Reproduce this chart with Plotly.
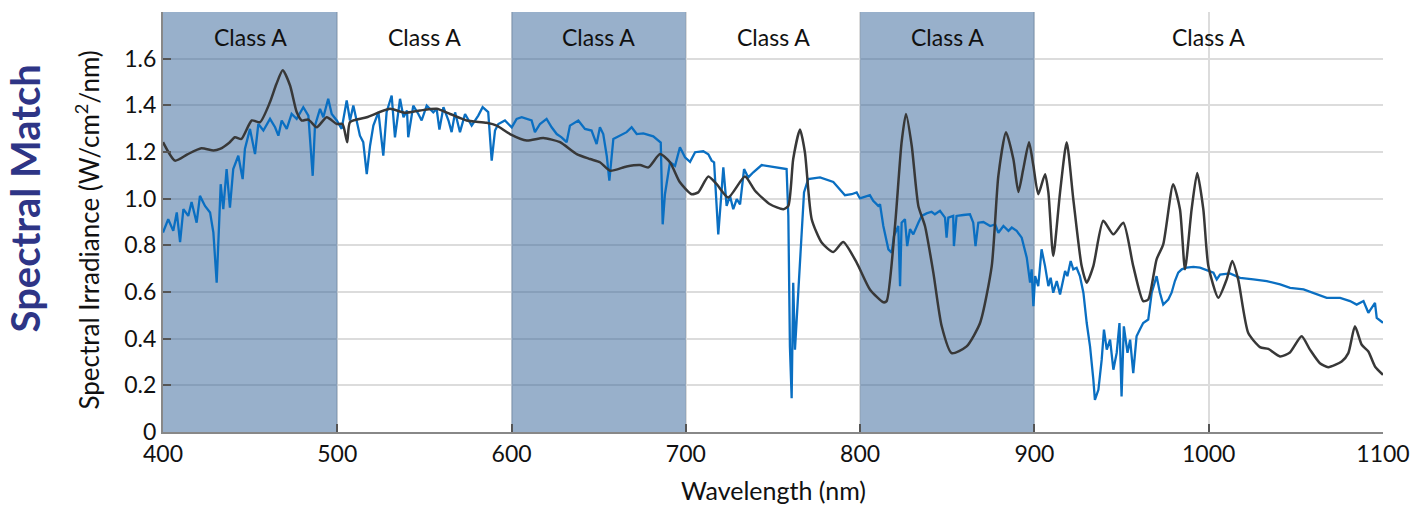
import plotly.graph_objects as go

# ---------------- data ----------------
lamp_nm = [400, 406.9, 414, 422, 429, 432.7, 438, 441.3, 445, 450.9, 455.7, 461.4, 465, 468.7, 472.9,
           476.7, 479.6, 483.4, 488.2, 493.9, 499.7, 503, 505.7, 507.3, 516.9, 530.2, 538.8, 547.5,
           557, 564.7, 574.2, 585.7, 591.5, 599.1, 608.7, 618.2, 627.8, 637.4, 645, 650.7, 656.5,
           666, 673.7, 678.5, 685.2, 690.9, 696.6, 703.3, 707.1, 712.9, 717.7, 724.3, 733.9, 739.7,
           748.3, 755.9, 758.8, 761.6, 765.5, 768.3, 772.2, 777.9, 784.6, 790.3, 798, 805.6, 813.3,
           815.2, 820, 823.8, 826.3, 829.6, 833.4, 837.2, 842, 846.8, 852.5, 861.1, 868.8, 875.5,
           879.3, 883.7, 887.9, 890.8, 893.6, 896.9, 899.4, 902.2, 906.1, 908, 910.8, 914.7, 918.5,
           922.3, 927.1, 930, 933.8, 939.5, 945.3, 951, 956.7, 962.4, 965.3, 970.1, 973.9, 979.6,
           983.5, 986.4, 990.2, 993.4, 996.9, 999.8, 1005.5, 1010.3, 1013.5, 1016.9, 1022.7, 1029.4,
           1034.2, 1040.9, 1046.6, 1053.3, 1058.1, 1063.8, 1068.6, 1076.3, 1080.1, 1083.9, 1087.8,
           1091.6, 1095.4, 1100]
lamp_val = [1.242, 1.163, 1.19, 1.216, 1.206, 1.213, 1.24, 1.263, 1.256, 1.335, 1.328, 1.414, 1.49,
            1.55, 1.485, 1.371, 1.335, 1.339, 1.306, 1.349, 1.32, 1.32, 1.242, 1.328, 1.349, 1.385,
            1.368, 1.378, 1.385, 1.363, 1.335, 1.325, 1.313, 1.277, 1.249, 1.26, 1.242, 1.191, 1.17,
            1.156, 1.12, 1.138, 1.144, 1.134, 1.191, 1.156, 1.07, 1.019, 1.027, 1.095, 1.062, 1.005,
            1.095, 1.034, 0.976, 0.955, 0.969, 1.17, 1.296, 1.199, 0.912, 0.812, 0.771, 0.814, 0.726,
            0.611, 0.556, 0.561, 0.883, 1.242, 1.363, 1.227, 0.969, 0.883, 0.683, 0.453, 0.338, 0.367,
            0.467, 0.711, 1.098, 1.285, 1.17, 1.029, 1.127, 1.242, 1.141, 1.019, 1.105, 1.027, 0.754,
            1.027, 1.242, 0.998, 0.711, 0.64, 0.711, 0.905, 0.847, 0.897, 0.711, 0.561, 0.568, 0.74,
            0.804, 1.062, 0.955, 0.697, 0.955, 1.11, 0.955, 0.711, 0.575, 0.654, 0.733, 0.654, 0.424,
            0.364, 0.356, 0.324, 0.341, 0.41, 0.353, 0.295, 0.278, 0.302, 0.338, 0.453, 0.374, 0.345,
            0.281, 0.245]

sun_nm = [400, 403, 405.9, 407.9, 409.8, 411.7, 414.5, 416.4, 419.3, 421.2, 424.1, 427, 428.9, 430.8,
          432.3, 433.1, 434.6, 436.5, 438.4, 440.3, 443.2, 445.7, 447, 449.9, 452.8, 454.7, 457.6,
          461.4, 464.3, 466.2, 468.1, 471, 473.8, 476.7, 480.5, 483.4, 485.9, 487.2, 490.1, 492,
          494.8, 496.8, 499.7, 502.5, 505.4, 507.3, 509.2, 513, 514.9, 516.9, 518.8, 520.7, 523.6,
          526.4, 528.3, 531.2, 533.1, 536, 538, 540, 540.7, 543.6, 546.5, 548.4, 551.3, 555.1, 557,
          558.6, 560.9, 563.8, 565.6, 567.6, 570.4, 573.3, 577.1, 580.9, 583.4, 586.6, 588.6, 590.5,
          592.4, 596.2, 600.1, 602.9, 605.8, 608.7, 611.5, 613.4, 616.3, 620.1, 623, 625.9, 628.7,
          631.6, 633.5, 638.3, 642.1, 645.9, 648.8, 650.7, 652.6, 654.6, 656.1, 658.4, 662.2, 666,
          668.9, 671.8, 675.6, 681.3, 685.6, 686.7, 688, 690.9, 693.8, 696.6, 699.5, 702.4, 705.3,
          710, 712.9, 714.8, 716.2, 718.6, 720.5, 721.5, 723.4, 725.3, 727.2, 729.2, 731.1, 733.4,
          735.8, 738.7, 743.5, 749.2, 754, 757.8, 758.8, 759.7, 760.7, 761.6, 762.6, 765.5, 767.8,
          770.2, 777, 784.6, 788.4, 791.3, 795.1, 798, 799.9, 805.6, 807.5, 810.4, 811.4, 813.3,
          816.2, 818.1, 819.4, 821.9, 822.9, 823.8, 825.7, 827, 828.6, 830.5, 833.4, 835.3, 838.1,
          841, 842.9, 845.8, 848.7, 849.6, 850.6, 853.4, 853.8, 855.3, 859.2, 863, 864.9, 866.2,
          867.8, 870.7, 874.6, 877.5, 879.3, 882.2, 885.1, 887, 889.8, 892.7, 895.6, 897.5, 898.4,
          899.4, 900.4, 902.2, 904.1, 906.1, 908, 909.3, 910.8, 912.8, 914.7, 916.2, 917.6, 918.9,
          920.8, 922.3, 924.2, 926.1, 928.1, 930, 931.9, 933.8, 934.7, 936.7, 938.6, 939.9, 941.5,
          943.4, 945.3, 947.2, 948.8, 950, 951.3, 953.4, 954.9, 956.7, 958.6, 960.5, 962.4, 965.3,
          967.3, 970.1, 972, 973.9, 976.8, 978.7, 980.6, 982.5, 984.5, 987.3, 991.2, 995, 998.8,
          1002.7, 1004.6, 1006.5, 1012.2, 1018, 1025.6, 1033.3, 1041, 1046.7, 1054.4, 1060.1,
          1067.7, 1075.4, 1081.1, 1084.9, 1088.8, 1091.6, 1093.6, 1095.4, 1096.4, 1100]
sun_val = [0.855, 0.912, 0.862, 0.941, 0.814, 0.955, 0.926, 0.986, 0.897, 1.012, 0.969, 0.941, 0.855,
           0.64, 0.912, 1.062, 0.955, 1.127, 0.962, 1.127, 1.184, 1.084, 1.213, 1.299, 1.191, 1.32,
           1.292, 1.342, 1.306, 1.27, 1.335, 1.299, 1.363, 1.342, 1.392, 1.356, 1.098, 1.313, 1.385,
           1.349, 1.428, 1.363, 1.335, 1.299, 1.421, 1.335, 1.399, 1.27, 1.242, 1.105, 1.227, 1.313,
           1.371, 1.184, 1.371, 1.442, 1.263, 1.428, 1.349, 1.378, 1.263, 1.399, 1.363, 1.335, 1.399,
           1.37, 1.385, 1.296, 1.392, 1.335, 1.285, 1.37, 1.285, 1.363, 1.313, 1.356, 1.392, 1.371,
           1.163, 1.292, 1.32, 1.335, 1.306, 1.342, 1.349, 1.342, 1.335, 1.285, 1.32, 1.342, 1.306,
           1.277, 1.263, 1.242, 1.313, 1.335, 1.299, 1.292, 1.234, 1.306, 1.277, 1.184, 1.077, 1.256,
           1.27, 1.285, 1.306, 1.277, 1.28, 1.267, 1.24, 0.89, 1.019, 1.156, 1.141, 1.22, 1.177,
           1.158, 1.199, 1.203, 1.19, 1.163, 1.156, 0.847, 1.033, 1.134, 0.969, 1.012, 0.955, 0.998,
           0.976, 1.127, 1.091, 1.113, 1.144, 1.138, 1.134, 1.127, 0.926, 0.367, 0.145, 0.64, 0.353,
           0.74, 1.027, 1.084, 1.091, 1.072, 1.041, 1.015, 1.019, 1.027, 1.001, 1.015, 0.991, 0.969,
           0.976, 0.883, 0.783, 0.769, 0.84, 0.883, 0.625, 0.897, 0.912, 0.797, 0.869, 0.847, 0.897,
           0.926, 0.937, 0.944, 0.933, 0.948, 0.919, 0.833, 0.919, 0.926, 0.797, 0.926, 0.93, 0.933,
           0.897, 0.797, 0.897, 0.9, 0.883, 0.89, 0.854, 0.883, 0.862, 0.876, 0.862, 0.833, 0.747,
           0.64, 0.697, 0.539, 0.668, 0.625, 0.783, 0.711, 0.625, 0.661, 0.597, 0.647, 0.589, 0.647,
           0.69, 0.668, 0.733, 0.697, 0.704, 0.668, 0.597, 0.467, 0.367, 0.224, 0.138, 0.181, 0.31,
           0.439, 0.353, 0.396, 0.267, 0.339, 0.467, 0.152, 0.453, 0.339, 0.396, 0.252, 0.41, 0.439,
           0.467, 0.482, 0.597, 0.668, 0.597, 0.546, 0.568, 0.597, 0.647, 0.683, 0.697, 0.704, 0.708,
           0.704, 0.694, 0.683, 0.654, 0.675, 0.68, 0.661, 0.654, 0.647, 0.633, 0.618, 0.611, 0.597,
           0.575, 0.575, 0.561, 0.546, 0.561, 0.511, 0.532, 0.553, 0.489, 0.468]

band_starts = [400, 500, 600, 700, 800, 900]
band_ends = [500, 600, 700, 800, 900, 1100]
band_shaded = [True, False, True, False, True, False]
band_labels = ["Class A", "Class A", "Class A", "Class A", "Class A", "Class A"]

y_ticks = [0, 0.2, 0.4, 0.6, 0.8, 1.0, 1.2, 1.4, 1.6, 1.8]
y_tick_text = ["0", "0.2", "0.4", "0.6", "0.8", "1.0", "1.2", "1.4", "1.6", ""]
x_ticks = [400, 500, 600, 700, 800, 900, 1000, 1100]

FONT = "Lato, Open Sans, sans-serif"

# ---------------- figure ----------------
fig = go.Figure()
fig.add_trace(go.Scatter(x=sun_nm, y=sun_val, mode="lines",
                         line=dict(color="#0A6FC2", width=2.3), showlegend=False))
fig.add_trace(go.Scatter(x=lamp_nm, y=lamp_val, mode="lines",
                         line=dict(color="#383838", width=2.5, shape="spline", smoothing=0.6),
                         showlegend=False))

for s, e, sh, lab in zip(band_starts, band_ends, band_shaded, band_labels):
    if sh:
        fig.add_shape(type="rect", xref="x", yref="y", x0=s, x1=e, y0=0, y1=1.8,
                      fillcolor="rgba(49,97,151,0.5)", line=dict(width=0), layer="between")
    fig.add_annotation(x=(s + e) / 2, y=1.695, xref="x", yref="y", text=lab, showarrow=False,
                       font=dict(family=FONT, size=23, color="#111"))

fig.add_annotation(xref="paper", yref="paper", x=-0.1135, y=0.555, xanchor="center",
                   yanchor="middle", text="<b>Spectral Match</b>", textangle=-90, showarrow=False,
                   font=dict(family=FONT, size=40, color="#2E3586"))
fig.add_annotation(xref="paper", yref="paper", x=-0.0615, y=0.482, xanchor="center",
                   yanchor="middle", text="Spectral Irradiance (W/cm<sup>2</sup>/nm)",
                   textangle=-90, showarrow=False,
                   font=dict(family=FONT, size=26, color="#111"))
fig.add_annotation(xref="paper", yref="paper", x=0.5, y=-0.138, xanchor="center",
                   yanchor="middle", text="Wavelength (nm)", showarrow=False,
                   font=dict(family=FONT, size=25, color="#111"))

fig.update_xaxes(range=[400, 1100], tickvals=x_ticks, ticks="inside", ticklen=8, tickwidth=2,
                 tickcolor="#555", showline=True, linecolor="#888", linewidth=2,
                 showgrid=True, gridcolor="#dcdcdc", gridwidth=1.5, zeroline=False,
                 tickfont=dict(family=FONT, size=23, color="#111"))
fig.update_yaxes(range=[0, 1.8], tickvals=y_ticks, ticktext=y_tick_text, ticks="inside", ticklen=8,
                 tickwidth=2, tickcolor="#555", showline=True, linecolor="#888", linewidth=2,
                 showgrid=True, gridcolor="#dcdcdc", gridwidth=1.5, zeroline=False,
                 tickfont=dict(family=FONT, size=23, color="#111"))

fig.update_layout(width=1422, height=506, margin=dict(l=163, r=39, t=12, b=74),
                  paper_bgcolor="white", plot_bgcolor="white")

fig.write_html("out.html")
